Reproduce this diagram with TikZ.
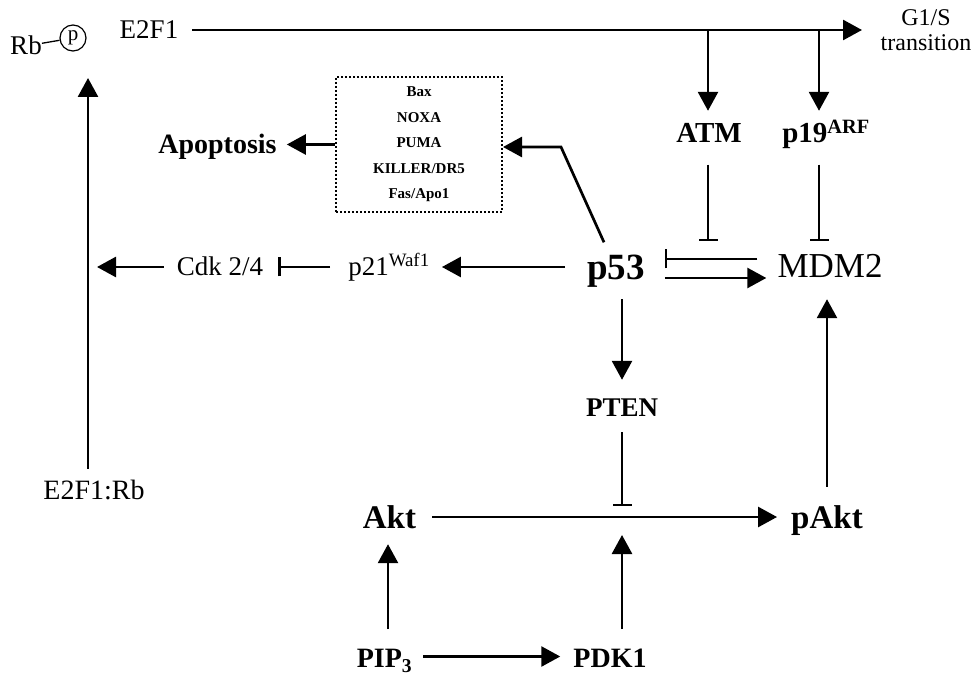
\documentclass[tikz,border=0pt]{standalone}
\usepackage{fontspec}
\setmainfont{Liberation Serif}
\usetikzlibrary{arrows.meta}
\newcommand\myfs[1]{\fontsize{#1}{#1}\selectfont}
\begin{document}
\begin{tikzpicture}[x=1pt,y=-1pt,
  lab/.style={inner sep=0pt, text depth=0pt},
  arr/.style={line width=2.7pt, -{Triangle[length=19pt,width=20pt]}},
  inh/.style={line width=2.7pt, -{Bar[width=19pt,line width=2.2pt]}},
  dotbox/.style={draw, line width=2pt, dash pattern=on 2pt off 2pt},
]
\useasboundingbox (0,0) rectangle (974,676);
% nodes
\node[lab, font=\myfs{27}, text height=18pt] (rb) at (26,46) {Rb};
\node[circle, draw, line width=1.2pt, minimum size=26pt, inner sep=0pt, font=\myfs{21}] (pc) at (73,38) {p};
\node[lab, font=\myfs{27}, text height=18pt] (e2f1) at (149,30) {E2F1};
\node[inner sep=0pt, anchor=north, align=center, font=\fontsize{24}{25}\selectfont] (g1s) at (926,9) {G1/S\\transition};
\node[lab, font=\bfseries\myfs{29}, text height=19pt] (atm) at (709,133) {ATM};
\node[lab, font=\bfseries\myfs{29}, text height=19pt] (p19) at (826,133) {p19\textsuperscript{ARF}};
\node[dotbox, minimum width=166pt, minimum height=135pt, align=center, font=\bfseries\fontsize{15}{25.5}\selectfont] (box) at (419,144.5) {Bax\\NOXA\\PUMA\\KILLER/DR5\\Fas/Apo1};
\node[lab, font=\bfseries\myfs{28}, text height=18.5pt] (apop) at (217.5,144.5) {Apoptosis};
\node[lab, font=\bfseries\myfs{37}, text height=25pt] (p53) at (616,267) {p53};
\node[lab, font=\myfs{35}, text height=23pt] (mdm2) at (830,266) {MDM2};
\node[lab, font=\myfs{27}, text height=18pt] (p21) at (389,267) {p21\textsuperscript{Waf1}};
\node[lab, font=\myfs{27}, text height=18pt] (cdk) at (220,267) {Cdk 2/4};
\node[lab, font=\myfs{28}, text height=18.5pt] (e2f1rb) at (94,490) {E2F1:Rb};
\node[lab, font=\bfseries\myfs{27}, text height=18pt] (pten) at (622,407) {PTEN};
\node[lab, font=\bfseries\myfs{33}, text height=22pt] (akt) at (389.5,517) {Akt};
\node[lab, font=\bfseries\myfs{33}, text height=22pt] (pakt) at (827,517) {pAkt};
\node[lab, font=\bfseries\myfs{28}, text height=18.5pt] (pip3) at (384.5,658.5) {PIP\textsubscript{3}};
\node[lab, font=\bfseries\myfs{28}, text height=18.5pt] (pdk1) at (610,658.5) {PDK1};
% junction coordinates
\coordinate (g1tip) at (862,30);
\coordinate (tA) at (708,30);
\coordinate (tP) at (819,30);
\coordinate (iA) at (708,241);
\coordinate (bend) at (561,147);
\coordinate (rbtip) at (88,78);
\coordinate (mid) at (622,517);
% connectors
\draw[line width=1.3pt] (rb) -- (pc);
\draw[arr, shorten <=14pt] (e2f1.east) -- (g1tip);
\draw[arr, shorten >=12.5pt] (tA) -- (tA |- atm.north);
\draw[arr, shorten >=12.5pt] (tP) -- (tP |- p19.north);
\draw[inh, shorten <=22pt] (tA |- atm.south) -- (iA);
\draw[inh, shorten <=22pt, shorten >=13.5pt] (tP |- p19.south) -- (tP |- mdm2.north);
\draw[arr, shorten >=10pt] (box.west) -- (apop.east);
\draw[arr] ([xshift=-12pt,yshift=12pt]p53.north) -- (bend) -- (bend -| box.east);
\draw[inh, shorten <=20pt, shorten >=20pt] ([yshift=7pt]mdm2.west) -- ([yshift=7pt]mdm2.west -| p53.east);
\draw[arr, shorten <=20pt, shorten >=11pt] ([yshift=-11pt]p53.east) -- ([yshift=-11pt]p53.east -| mdm2.west);
\draw[arr, shorten <=22pt, shorten >=12pt] (p53.west) -- (p21.east);
\draw[inh, shorten <=18pt, shorten >=15pt] (p21.west) -- (cdk.east);
\draw[arr, shorten <=13pt, shorten >=9pt] (cdk.west) -- (cdk.west -| rbtip);
\draw[arr, shorten <=12pt] (rbtip |- e2f1rb.north) -- (rbtip);
\draw[arr, shorten <=19.5pt, shorten >=18pt] (pten |- p53.south) -- (pten.north);
\draw[inh, shorten <=16pt] (pten.south) -- ([yshift=11pt]mid);
\draw[arr, shorten <=16pt, shorten >=14pt] (akt.east) -- (pakt.west);
\draw[arr, shorten <=19pt, shorten >=21.5pt] (pakt.north) -- (pakt.north |- mdm2.south);
\draw[arr, shorten <=20pt, shorten >=16pt] ([xshift=3.5pt]pip3.north) -- ([xshift=3.5pt]pip3.north |- akt.south);
\draw[arr, shorten <=11pt, shorten >=13pt] ([yshift=2pt]pip3.east) -- ([yshift=2pt]pdk1.west);
\draw[arr, shorten <=20pt] (mid |- pdk1.north) -- ([yshift=-18pt]mid);
\end{tikzpicture}
\end{document}
